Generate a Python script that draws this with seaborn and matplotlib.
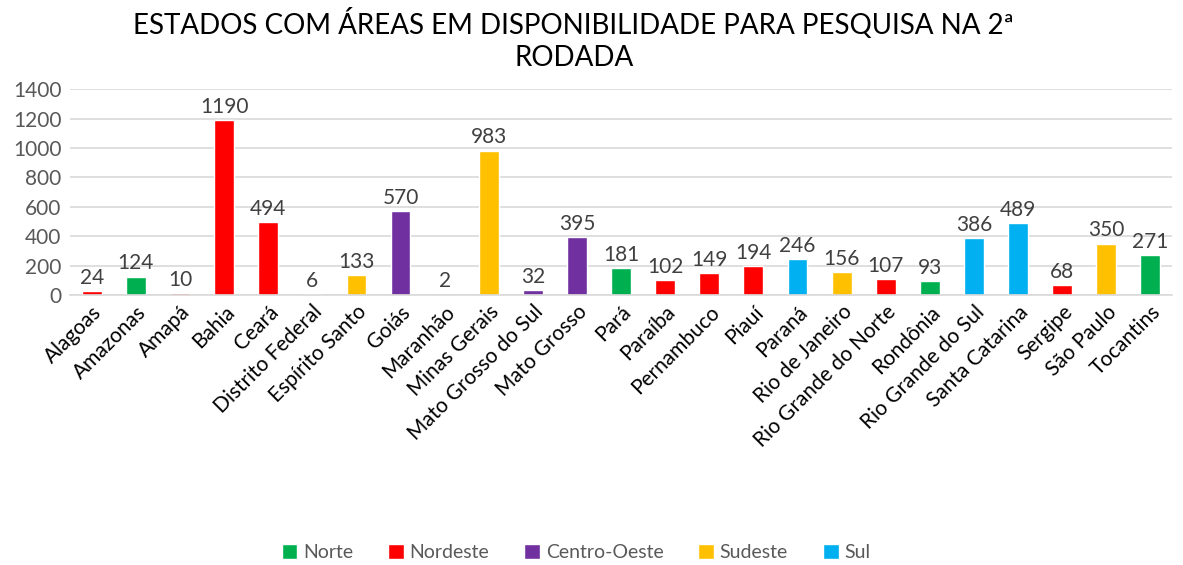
import matplotlib
matplotlib.use('Agg')
import matplotlib.pyplot as plt
from matplotlib.patches import Patch
import seaborn as sns
import pandas as pd

estados = ['Alagoas', 'Amazonas', 'Amapá', 'Bahia', 'Ceará', 'Distrito Federal',
           'Espírito Santo', 'Goiás', 'Maranhão', 'Minas Gerais', 'Mato Grosso do Sul',
           'Mato Grosso', 'Pará', 'Paraíba', 'Pernambuco', 'Piauí', 'Paraná',
           'Rio de Janeiro', 'Rio Grande do Norte', 'Rondônia', 'Rio Grande do Sul',
           'Santa Catarina', 'Sergipe', 'São Paulo', 'Tocantins']
areas = [24, 124, 10, 1190, 494, 6, 133, 570, 2, 983, 32, 395, 181, 102, 149, 194,
         246, 156, 107, 93, 386, 489, 68, 350, 271]
regioes = ['Nordeste', 'Norte', 'Nordeste', 'Nordeste', 'Nordeste', 'Centro-Oeste',
           'Sudeste', 'Centro-Oeste', 'Nordeste', 'Sudeste', 'Centro-Oeste',
           'Centro-Oeste', 'Norte', 'Nordeste', 'Nordeste', 'Nordeste', 'Sul',
           'Sudeste', 'Nordeste', 'Norte', 'Sul', 'Sul', 'Nordeste', 'Sudeste', 'Norte']
ordem_regioes = ['Norte', 'Nordeste', 'Centro-Oeste', 'Sudeste', 'Sul']
cores = {'Norte': '#00B050', 'Nordeste': '#FF0000', 'Centro-Oeste': '#7030A0',
         'Sudeste': '#FFC000', 'Sul': '#00B0F0'}

df = pd.DataFrame({'estado': estados, 'area': areas, 'regiao': regioes})

sns.set_style('white')
plt.rcParams['font.family'] = ['Lato', 'DejaVu Sans']

fig = plt.figure(figsize=(11.83, 5.65), dpi=100)
ax = fig.add_axes([0.059, 0.478, 0.932, 0.364])

sns.barplot(data=df, x='estado', y='area', hue='regiao', hue_order=ordem_regioes,
            palette=cores, dodge=False, width=0.45, saturation=1, legend=False, ax=ax)

for i, v in enumerate(areas):
    ax.text(i, v + 22, str(v), ha='center', va='bottom', fontsize=15, color='#404040')

ax.set_ylim(0, 1400)
ax.set_yticks(range(0, 1401, 200))
ax.yaxis.grid(True, color='#d9d9d9', linewidth=1.2)
ax.set_axisbelow(True)
for s in ['top', 'right', 'left']:
    ax.spines[s].set_visible(False)
ax.spines['bottom'].set_color('#d9d9d9')
ax.spines['bottom'].set_linewidth(1.2)
ax.set_xlim(-0.5, len(estados) - 0.5)
ax.set_xlabel('')
ax.set_ylabel('')
ax.tick_params(axis='y', labelsize=15, labelcolor='#595959', length=0, pad=6)
ax.tick_params(axis='x', length=0, pad=5)
plt.setp(ax.get_xticklabels(), rotation=45, ha='right', rotation_mode='anchor',
         fontsize=15, color='black')

fig.text(0.485, 0.875, 'ESTADOS COM ÁREAS EM DISPONIBILIDADE PARA PESQUISA NA 2ª\nRODADA',
         ha='center', va='bottom', fontsize=20, fontweight='normal', color='black',
         linespacing=1.25)

handles = [Patch(facecolor=cores[r], label=r) for r in ordem_regioes]
fig.legend(handles=handles, loc='center', bbox_to_anchor=(0.487, 0.022), ncol=5,
           frameon=False, fontsize=14, handlelength=0.8, handleheight=0.8,
           handletextpad=0.3, columnspacing=1.8, labelcolor='#595959')

fig.savefig('out.png', dpi=100)
